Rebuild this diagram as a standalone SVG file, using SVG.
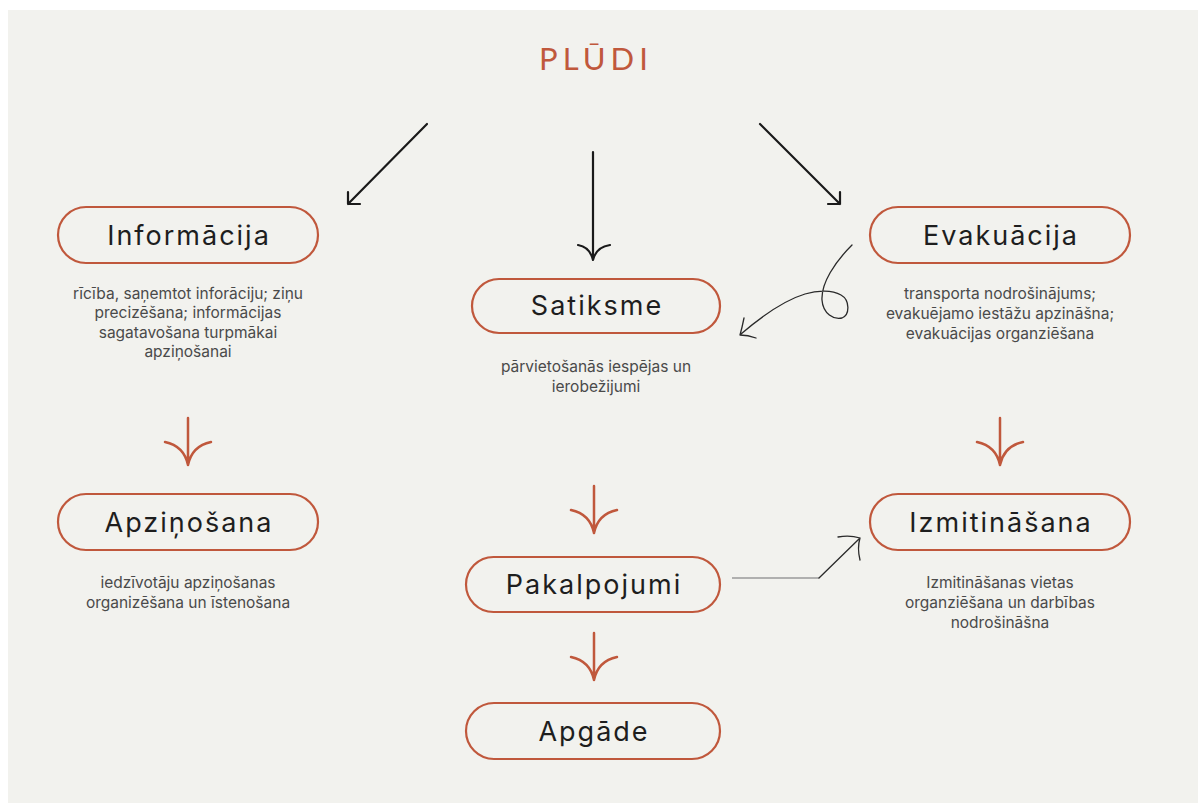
<svg xmlns="http://www.w3.org/2000/svg" xmlns:xlink="http://www.w3.org/1999/xlink" width="1198" height="803" viewBox="0 0 1198 803">
<style>
.pill{fill:none;stroke:#c0583c;stroke-width:2.2}
.lbl{font-family:Inter,"Liberation Sans",sans-serif;font-size:27px;fill:#1e1e1e;text-anchor:middle;letter-spacing:2px}
.desc{font-family:Inter,"Liberation Sans",sans-serif;font-size:15.5px;fill:#4a4a4a;text-anchor:middle}
.blk{fill:none;stroke:#1a1a1a;stroke-width:2.2;stroke-linecap:round;stroke-linejoin:round}
.thin{fill:none;stroke:#2a2a2a;stroke-width:1.3;stroke-linecap:round;stroke-linejoin:round}
.or{fill:none;stroke:#c0583c;stroke-width:2.5;stroke-linecap:round}
</style>
<defs>
<g id="oarrow"><path class="or" d="M0,-47 V0 M-23,-23 Q-4,-19 0,0 M23,-23 Q4,-19 0,0"/></g>
</defs>
<rect x="8" y="10" width="1190" height="793" fill="#f2f2ee"/>
<text x="596" y="70" font-family="Lato,'Liberation Sans',sans-serif" font-size="31" fill="#c0583c" text-anchor="middle" letter-spacing="5">PLŪDI</text>

<g id="connectors">
<path class="blk" d="M427,124 L348,204 M348,192 L348,204 L360,204"/>
<path class="blk" d="M593,152 L593,260 M578,245 Q590,247 593,260 Q596,247 610,245"/>
<path class="blk" d="M760,124 L840,204 M840,192 L840,204 L828,204"/>
<use xlink:href="#oarrow" x="188" y="465"/>
<use xlink:href="#oarrow" x="1000" y="465"/>
<use xlink:href="#oarrow" x="594" y="533"/>
<use xlink:href="#oarrow" x="594" y="680"/>
<path class="thin" d="M852,245 C835,262 821,283 822,300 C823,314 834,320 842,318 C850,315 850,300 841,295 C832,290 818,290 805,294 C785,300 762,316 741,334 M744,318 Q742,328 740,335 Q748,335 756,338"/>
<path fill="none" stroke="#9a9a9a" stroke-width="1.3" d="M732,578 L819,578"/>
<path class="thin" d="M819,578 L860,538 M838,537 Q850,535 860,538 Q857,548 860,560"/>
</g>

<g id="informacija">
<rect class="pill" x="58" y="207" width="260" height="56" rx="28"/>
<text class="lbl" x="189" y="245">Informācija</text>
<text class="desc" x="188" y="299">rīcība, saņemtot inforāciju; ziņu</text>
<text class="desc" x="188" y="318">precizēšana; informācijas</text>
<text class="desc" x="188" y="338">sagatavošana turpmākai</text>
<text class="desc" x="188" y="357">apziņošanai</text>
</g>

<g id="satiksme">
<rect class="pill" x="472" y="279" width="248" height="54" rx="27"/>
<text class="lbl" x="597" y="315">Satiksme</text>
<text class="desc" x="596" y="372">pārvietošanās iespējas un</text>
<text class="desc" x="596" y="392">ierobežijumi</text>
</g>

<g id="evakuacija">
<rect class="pill" x="870" y="207" width="260" height="56" rx="28"/>
<text class="lbl" x="1001" y="245">Evakuācija</text>
<text class="desc" x="1000" y="299">transporta nodrošinājums;</text>
<text class="desc" x="1000" y="319">evakuējamo iestāžu apzināšna;</text>
<text class="desc" x="1000" y="339">evakuācijas organziēšana</text>
</g>

<g id="apzinosana">
<rect class="pill" x="58" y="494" width="260" height="56" rx="28"/>
<text class="lbl" x="189" y="532">Apziņošana</text>
<text class="desc" x="188" y="588">iedzīvotāju apziņošanas</text>
<text class="desc" x="188" y="608">organizēšana un īstenošana</text>
</g>

<g id="pakalpojumi">
<rect class="pill" x="466" y="557" width="254" height="55" rx="27.5"/>
<text class="lbl" x="594" y="594">Pakalpojumi</text>
</g>

<g id="apgade">
<rect class="pill" x="466" y="703" width="254" height="56" rx="28"/>
<text class="lbl" x="594" y="741">Apgāde</text>
</g>

<g id="izmitinasana">
<rect class="pill" x="870" y="494" width="260" height="56" rx="28"/>
<text class="lbl" x="1001" y="532">Izmitināšana</text>
<text class="desc" x="1000" y="588">Izmitināšanas vietas</text>
<text class="desc" x="1000" y="608">organziēšana un darbības</text>
<text class="desc" x="1000" y="628">nodrošināšna</text>
</g>
</svg>
